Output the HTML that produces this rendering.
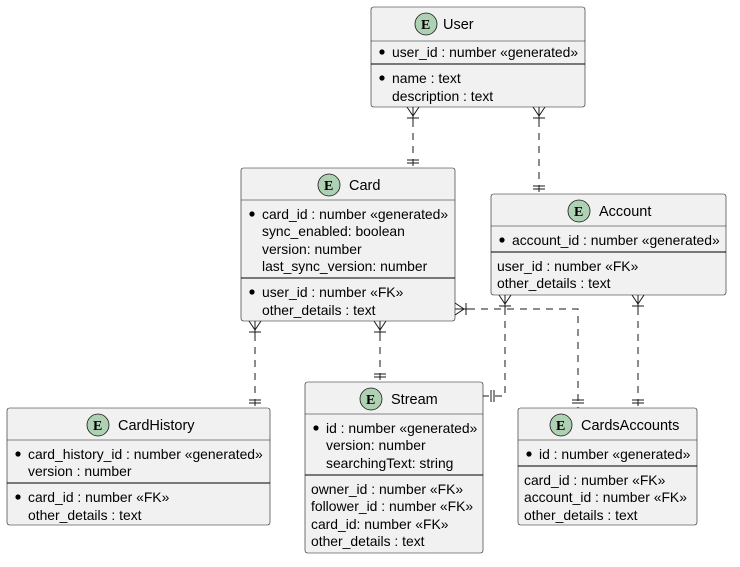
<!DOCTYPE html>
<html><head><meta charset="utf-8"><style>
html,body{margin:0;padding:0;background:#fff}
svg{display:block}
text{font-family:"Liberation Sans",sans-serif;font-size:13.9px;fill:#000}
.t{font-size:14.5px}
.e{font-family:"Liberation Serif",serif;font-weight:bold;font-size:14px}
.b{fill:#f1f1f1;stroke:#181818;stroke-width:0.6}
.h{stroke:#181818;stroke-width:0.5}
.s{stroke:#000;stroke-width:1.1}
.c{fill:#add1b2;stroke:#181818;stroke-width:0.8}
.l{stroke:#181818;stroke-width:1;fill:none;stroke-dasharray:7 6}
.m{stroke:#181818;stroke-width:1;fill:none}
.d{fill:#000}
</style></head><body>
<svg width="740" height="567" xmlns="http://www.w3.org/2000/svg">
<path class="l" d="M413,107 V168"/>
<path class="m" d="M407,107 L413,116 L419,107 M413,107 V120 M407,118 H419 M407,160 H419 M407,163 H419"/>
<path class="l" d="M539,107 V194"/>
<path class="m" d="M533,107 L539,116 L545,107 M539,107 V120 M533,118 H545 M533,186 H545 M533,189 H545"/>
<path class="l" d="M255,321 V408"/>
<path class="m" d="M249,321 L255,330 L261,321 M255,321 V334 M249,332 H261 M249,400 H261 M249,403 H261"/>
<path class="l" d="M380,321 V382"/>
<path class="m" d="M374,321 L380,330 L386,321 M380,321 V334 M374,332 H386 M374,374 H386 M374,377 H386"/>
<path class="l" d="M455,309 H578 V408"/>
<path class="m" d="M455,303 L464,309 L455,315 M455,309 H468 M466,303 V315 M572,400 H584 M572,403 H584"/>
<path class="l" d="M505,295 V396 H483"/>
<path class="m" d="M499,295 L505,304 L511,295 M505,295 V308 M499,306 H511 M491,390 V402 M494,390 V402"/>
<path class="l" d="M638,295 V408"/>
<path class="m" d="M632,295 L638,304 L644,295 M638,295 V308 M632,306 H644 M632,400 H644 M632,403 H644"/>

<rect class="b" x="371" y="7" width="214" height="100" rx="2.5"/>
<circle class="c" cx="426" cy="24" r="11"/><text class="e" x="421" y="29">E</text>
<text class="t" x="443" y="29">User</text>
<line class="h" x1="371" y1="41" x2="585" y2="41"/>
<circle class="d" cx="382" cy="52" r="2.6"/><text x="392" y="57">user_id : number «generated»</text>
<line class="s" x1="371" y1="64" x2="585" y2="64"/>
<circle class="d" cx="382" cy="78" r="2.6"/><text x="392" y="83">name : text</text>
<text x="392" y="101">description : text</text>

<rect class="b" x="241" y="168" width="214" height="153" rx="2.5"/>
<circle class="c" cx="329" cy="185" r="11"/><text class="e" x="324" y="190">E</text>
<text class="t" x="349" y="190">Card</text>
<line class="h" x1="241" y1="200" x2="455" y2="200"/>
<circle class="d" cx="252" cy="214" r="2.6"/><text x="262" y="219">card_id : number «generated»</text>
<text x="262" y="236">sync_enabled: boolean</text>
<text x="262" y="254">version: number</text>
<text x="262" y="271">last_sync_version: number</text>
<line class="s" x1="241" y1="278" x2="455" y2="278"/>
<circle class="d" cx="252" cy="292" r="2.6"/><text x="262" y="297">user_id : number «FK»</text>
<text x="262" y="315">other_details : text</text>

<rect class="b" x="491" y="194" width="235" height="101" rx="2.5"/>
<circle class="c" cx="579" cy="211" r="11"/><text class="e" x="574" y="216">E</text>
<text class="t" x="599" y="216">Account</text>
<line class="h" x1="491" y1="226" x2="726" y2="226"/>
<circle class="d" cx="502" cy="240" r="2.6"/><text x="512" y="245">account_id : number «generated»</text>
<line class="s" x1="491" y1="252" x2="726" y2="252"/>
<text x="497" y="271">user_id : number «FK»</text>
<text x="497" y="288">other_details : text</text>

<rect class="b" x="7" y="408" width="263" height="117" rx="2.5"/>
<circle class="c" cx="98" cy="425" r="11"/><text class="e" x="93" y="430">E</text>
<text class="t" x="118" y="430">CardHistory</text>
<line class="h" x1="7" y1="440" x2="270" y2="440"/>
<circle class="d" cx="18" cy="454" r="2.6"/><text x="28" y="459">card_history_id : number «generated»</text>
<text x="28" y="476">version : number</text>
<line class="s" x1="7" y1="483" x2="270" y2="483"/>
<circle class="d" cx="18" cy="497" r="2.6"/><text x="28" y="502">card_id : number «FK»</text>
<text x="28" y="520">other_details : text</text>

<rect class="b" x="305" y="382" width="178" height="171" rx="2.5"/>
<circle class="c" cx="371" cy="399" r="11"/><text class="e" x="366" y="404">E</text>
<text class="t" x="391" y="404">Stream</text>
<line class="h" x1="305" y1="414" x2="483" y2="414"/>
<circle class="d" cx="316" cy="428" r="2.6"/><text x="326" y="433">id : number «generated»</text>
<text x="326" y="450">version: number</text>
<text x="326" y="468">searchingText: string</text>
<line class="s" x1="305" y1="475" x2="483" y2="475"/>
<text x="311" y="494">owner_id : number «FK»</text>
<text x="311" y="511">follower_id : number «FK»</text>
<text x="311" y="529">card_id: number «FK»</text>
<text x="311" y="546">other_details : text</text>

<rect class="b" x="518" y="408" width="179" height="117" rx="2.5"/>
<circle class="c" cx="561" cy="425" r="11"/><text class="e" x="556" y="430">E</text>
<text class="t" x="581" y="430">CardsAccounts</text>
<line class="h" x1="518" y1="440" x2="697" y2="440"/>
<circle class="d" cx="529" cy="454" r="2.6"/><text x="539" y="459">id : number «generated»</text>
<line class="s" x1="518" y1="466" x2="697" y2="466"/>
<text x="524" y="485">card_id : number «FK»</text>
<text x="524" y="502">account_id : number «FK»</text>
<text x="524" y="520">other_details : text</text>
</svg>
</body></html>
